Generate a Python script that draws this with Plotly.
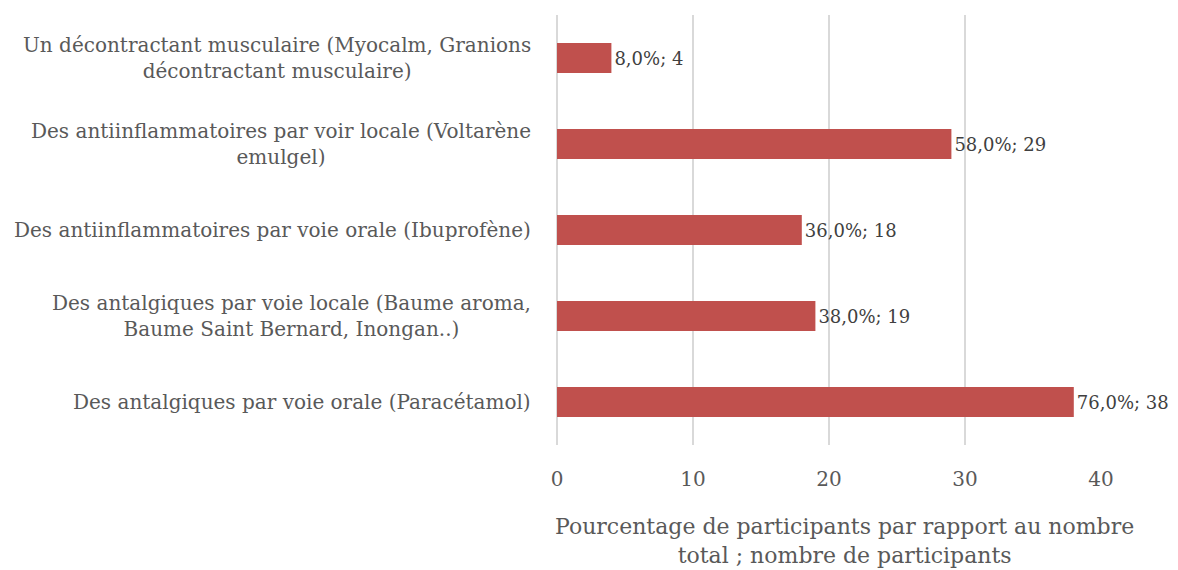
import plotly.graph_objects as go

categories = [
    "Des antalgiques par voie orale (Paracétamol)",
    "Des antalgiques par voie locale (Baume aroma,<br>Baume Saint Bernard, Inongan..)",
    "Des antiinflammatoires par voie orale (Ibuprofène)",
    "Des antiinflammatoires par voir locale (Voltarène<br>emulgel)",
    "Un décontractant musculaire (Myocalm, Granions<br>décontractant musculaire)",
]
counts = [38, 19, 18, 29, 4]
percents = ["76,0%", "38,0%", "36,0%", "58,0%", "8,0%"]
tick_vals = [0, 10, 20, 30, 40]
x_title = "Pourcentage de participants par rapport au nombre<br>total ; nombre de participants"

FONT = "DejaVu Serif"
GREY = "#595959"

labels = [f"{p}; {c}" for p, c in zip(percents, counts)]

fig = go.Figure(go.Bar(
    y=categories, x=counts, orientation="h",
    marker=dict(color="#C0504D", line=dict(width=0)),
    text=labels, textposition="outside", cliponaxis=False,
    textfont=dict(family=FONT, size=18, color="#404040"),
    width=0.35,
))

for cat in categories:
    fig.add_annotation(
        x=0, xref="paper", y=cat, yref="y", text=cat, showarrow=False,
        xanchor="right", xshift=-24, align="center",
        font=dict(family=FONT, size=20, color=GREY),
    )

fig.add_annotation(
    x=0.5, xref="paper", xshift=15, y=0, yref="paper", yshift=-96,
    yanchor="middle", text=x_title, showarrow=False, align="center",
    font=dict(family=FONT, size=22, color=GREY),
)

fig.update_layout(
    width=1170, height=562,
    margin=dict(l=549, r=77, t=7, b=125),
    plot_bgcolor="white", paper_bgcolor="white",
    showlegend=False,
    font=dict(family=FONT, color=GREY),
    xaxis=dict(
        range=[0, 40], tickvals=tick_vals, showgrid=True, gridcolor="#D9D9D9",
        gridwidth=1.5, zeroline=True, zerolinecolor="#D9D9D9", zerolinewidth=1.5,
        showline=False,
        tickfont=dict(family=FONT, size=20, color=GREY),
        ticklabelstandoff=20,
    ),
    yaxis=dict(showticklabels=False, showgrid=False, zeroline=False,
               categoryorder="array", categoryarray=categories),
)

fig.write_html("out.html")
